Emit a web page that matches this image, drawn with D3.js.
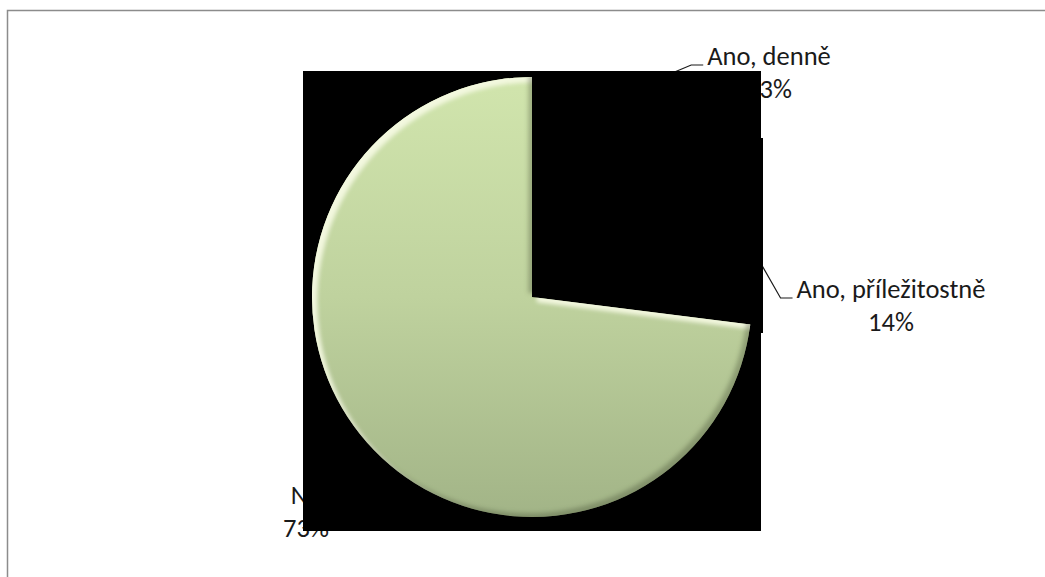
<!DOCTYPE html>
<html><head><meta charset="utf-8">
<script src="https://cdn.jsdelivr.net/npm/d3@7"></script>
<style>html,body{margin:0;padding:0;background:#fff}svg{display:block}</style>
</head><body>
<svg id="chart" width="1045" height="577"></svg>
<script>
// ---- data ----
const categories = ["Ano, denně", "Ano, příležitostně", "Ne"];
const values = [13, 14, 73];
const percentLabels = ["13%", "14%", "73%"];

// ---- layout / style ----
const W = 1045, H = 577;
const cx = 532, cy = 297, R = 220;
const sliceFill = ["#000", "#000", "url(#greenGrad)"];
// label anchor (text centre, first baseline) relative to pie centre, in radius units
const labelOffsets = [[237/220, -232/220], [359/220, 1/220], [-226/220, 207/220]];
const hasLeader = [true, true, false];
const lineGap = 33;
const fontFamily = "Carlito, 'Open Sans', 'Noto Sans', sans-serif";
const targetWidth = 189; // width of the longest label in the reference

const svg = d3.select("#chart");
const defs = svg.append("defs");
const g1 = defs.append("linearGradient").attr("id", "greenGrad")
  .attr("gradientUnits", "userSpaceOnUse")
  .attr("x1", 0).attr("y1", -R).attr("x2", 0).attr("y2", R);
g1.append("stop").attr("offset", "0%").attr("stop-color", "#d1e5ad");
g1.append("stop").attr("offset", "50%").attr("stop-color", "#bfd29e");
g1.append("stop").attr("offset", "100%").attr("stop-color", "#a2b487");

const f = defs.append("filter").attr("id", "bevel")
  .attr("x", "-5%").attr("y", "-5%").attr("width", "110%").attr("height", "110%");
f.append("feGaussianBlur").attr("in", "SourceAlpha").attr("stdDeviation", 2).attr("result", "blur");
f.append("feOffset").attr("in", "blur").attr("dx", 5).attr("dy", 5).attr("result", "offHi");
f.append("feComposite").attr("in", "SourceAlpha").attr("in2", "offHi").attr("operator", "out").attr("result", "hiMask");
f.append("feFlood").attr("flood-color", "#f3f8df").attr("flood-opacity", 1).attr("result", "hiCol");
f.append("feComposite").attr("in", "hiCol").attr("in2", "hiMask").attr("operator", "in").attr("result", "hi");
f.append("feOffset").attr("in", "blur").attr("dx", -4).attr("dy", -4).attr("result", "offSh");
f.append("feComposite").attr("in", "SourceAlpha").attr("in2", "offSh").attr("operator", "out").attr("result", "shMask");
f.append("feFlood").attr("flood-color", "#4d5838").attr("flood-opacity", 0.5).attr("result", "shCol");
f.append("feComposite").attr("in", "shCol").attr("in2", "shMask").attr("operator", "in").attr("result", "sh");
const fm = f.append("feMerge");
fm.append("feMergeNode").attr("in", "SourceGraphic");
fm.append("feMergeNode").attr("in", "hi");
fm.append("feMergeNode").attr("in", "sh");

// chart frame
svg.append("path").attr("d", `M7.5,${H}V10.5H${W}`)
  .attr("fill", "none").attr("stroke", "#8c8c8c").attr("stroke-width", 1.5);

const pie = d3.pie().sort(null).value(d => d)(values);
const arc = d3.arc().innerRadius(0).outerRadius(R);

// ---- labels (under the black plot background, as in the reference) ----
const labelG = svg.append("g").attr("font-family", fontFamily).attr("fill", "#1a1a1a");
const texts = labelG.selectAll("text").data(pie).join("text")
  .attr("text-anchor", "middle")
  .attr("x", (d, i) => cx + labelOffsets[i][0] * R)
  .attr("y", (d, i) => cy + labelOffsets[i][1] * R);
texts.append("tspan").attr("x", (d, i) => cx + labelOffsets[i][0] * R).text((d, i) => categories[i]);
texts.append("tspan").attr("x", (d, i) => cx + labelOffsets[i][0] * R).attr("dy", lineGap).text((d, i) => percentLabels[i]);

// fit font size so the longest label matches the reference width
labelG.attr("font-size", 26);
let maxW = 0;
texts.each(function () { d3.select(this).selectAll("tspan").each(function () { maxW = Math.max(maxW, this.getComputedTextLength()); }); });
const fs = 26 * targetWidth / maxW;
labelG.attr("font-size", fs);

// leader lines
const leaderG = svg.append("g").attr("fill", "none").attr("stroke", "#1a1a1a").attr("stroke-width", 1.2);
texts.each(function (d, i) {
  if (!hasLeader[i]) return;
  const first = d3.select(this).select("tspan").node();
  const w = first.getComputedTextLength();
  const tx = cx + labelOffsets[i][0] * R - w / 2 - 4;
  const ty = cy + labelOffsets[i][1] * R;
  const mid = (d.startAngle + d.endAngle) / 2;
  const px = cx + Math.sin(mid) * R, py = cy - Math.cos(mid) * R;
  leaderG.append("polyline").attr("points", `${tx},${ty} ${tx - 12},${ty} ${px},${py}`);
});

// ---- black plot background (render artefact in the reference) ----
svg.append("rect").attr("x", cx - R - 9).attr("y", cy - R - 6)
  .attr("width", 2 * R + 18).attr("height", 2 * R + 20).attr("fill", "#000");
svg.append("rect").attr("x", cx + R + 3).attr("y", cy - R + 61)
  .attr("width", 8).attr("height", 195).attr("fill", "#000");

// ---- slices ----
svg.append("g").attr("transform", `translate(${cx},${cy})`)
  .selectAll("path").data(pie).join("path")
  .attr("d", arc)
  .attr("fill", (d, i) => sliceFill[i])
  .attr("filter", (d, i) => i === 2 ? "url(#bevel)" : null);
</script>
</body></html>
